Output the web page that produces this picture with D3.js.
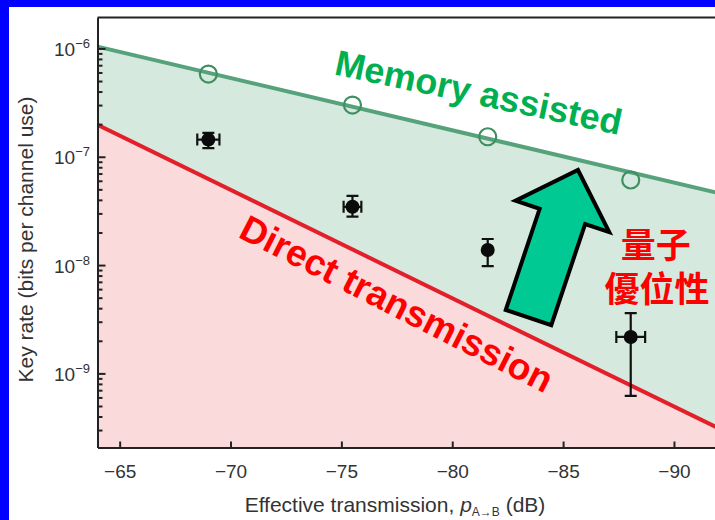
<!DOCTYPE html>
<html><head><meta charset="utf-8">
<script src="https://cdn.jsdelivr.net/npm/d3@7"></script>
<style>
html,body{margin:0;padding:0;background:#fff;}
svg{display:block;}
</style></head>
<body>
<svg id="chart" width="715" height="520"></svg>
<script>
// ---------------- data ----------------
const transmissionDb = [-69.0, -75.5, -81.6, -88.05];
const memoryBoundPoints = [5.8e-7, 3.0e-7, 1.53e-7, 6.1e-8];
const measuredRate = [1.44e-7, 3.45e-8, 1.38e-8, 2.17e-9];
const rateLow = [1.2e-7, 2.8e-8, 9.8e-9, 6.2e-10];
const rateHigh = [1.66e-7, 4.35e-8, 1.74e-8, 3.6e-9];
const dbError = [0.5, 0.4, 0, 0.65];
const memoryBoundDb = [-64, -92];
const memoryBoundRate = [1.04e-6, 4.63e-8];
const directBoundDb = [-64, -92];
const directBoundRate = [1.97e-7, 3.12e-10];
const xTicks = [-65, -70, -75, -80, -85, -90];
const yMajorTicks = [1e-9, 1e-8, 1e-7, 1e-6];
const yTickBase = "10";
const yTickExponents = ["\u22129", "\u22128", "\u22127", "\u22126"];
const xTitle = ["Effective transmission, ", "p", "A\u2192B", " (dB)"];
const yTitle = "Key rate (bits per channel use)";
const labelMemory = "Memory assisted";
const labelDirect = "Direct transmission";
const labelAdvantage = ["量子", "優位性"];
// annotation anchors (data coordinates)
const arrowTail = [-83.44, 3.28e-9];
const arrowTip = [-85.67, 7.55e-8];

// ---------------- layout ----------------
const W = 715, H = 520;
const pLeft = 97.5, pRight = 718.3, pTop = 17.5, pBottom = 447.5;
const svg = d3.select("#chart");
const x = d3.scaleLinear().domain([-64, -92]).range([pLeft, pRight]);
const y = d3.scaleLog().domain([2.07e-10, 1.93e-6]).range([pBottom, pTop]);

svg.append("defs").append("clipPath").attr("id", "plotclip")
  .append("rect").attr("x", pLeft).attr("y", pTop).attr("width", W - pLeft).attr("height", pBottom - pTop);

const plot = svg.append("g").attr("clip-path", "url(#plotclip)");

const memPts = memoryBoundDb.map((d, i) => ({x: d, y: memoryBoundRate[i]}));
const dirPts = directBoundDb.map((d, i) => ({x: d, y: directBoundRate[i]}));

// pink region below direct transmission
plot.append("path")
  .datum(dirPts)
  .attr("d", d3.area().x(d => x(d.x)).y0(pBottom).y1(d => y(d.y)))
  .attr("fill", "#fbdadc");
// green region between bounds
const band = memPts.map((d, i) => ({x: d.x, hi: d.y, lo: dirPts[i].y}));
plot.append("path")
  .datum(band)
  .attr("d", d3.area().x(d => x(d.x)).y0(d => y(d.lo)).y1(d => y(d.hi)))
  .attr("fill", "#d6e9de");

plot.append("path").datum(memPts)
  .attr("d", d3.line().x(d => x(d.x)).y(d => y(d.y)))
  .attr("fill", "none").attr("stroke", "#55a27b").attr("stroke-width", 4);
plot.append("path").datum(dirPts)
  .attr("d", d3.line().x(d => x(d.x)).y(d => y(d.y)))
  .attr("fill", "none").attr("stroke", "#e3202a").attr("stroke-width", 4);

// open circles
plot.selectAll("circle.mem").data(transmissionDb).join("circle")
  .attr("class", "mem")
  .attr("cx", d => x(d)).attr("cy", (d, i) => y(memoryBoundPoints[i]))
  .attr("r", 8.5).attr("fill", "none").attr("stroke", "#3e8f62").attr("stroke-width", 2.2);

// error bars + measured points
const eb = plot.append("g").attr("stroke", "#111").attr("stroke-width", 2.2);
transmissionDb.forEach((d, i) => {
  const cx = x(d), cy = y(measuredRate[i]);
  const y1 = y(rateHigh[i]), y2 = y(rateLow[i]);
  eb.append("line").attr("x1", cx).attr("x2", cx).attr("y1", y1).attr("y2", y2);
  eb.append("line").attr("x1", cx - 6).attr("x2", cx + 6).attr("y1", y1).attr("y2", y1);
  eb.append("line").attr("x1", cx - 6).attr("x2", cx + 6).attr("y1", y2).attr("y2", y2);
  if (dbError[i] > 0) {
    const xa = x(d + dbError[i]), xb = x(d - dbError[i]);
    eb.append("line").attr("x1", xa).attr("x2", xb).attr("y1", cy).attr("y2", cy);
    eb.append("line").attr("x1", xa).attr("x2", xa).attr("y1", cy - 6).attr("y2", cy + 6);
    eb.append("line").attr("x1", xb).attr("x2", xb).attr("y1", cy - 6).attr("y2", cy + 6);
  }
});
plot.selectAll("circle.meas").data(transmissionDb).join("circle")
  .attr("class", "meas")
  .attr("cx", d => x(d)).attr("cy", (d, i) => y(measuredRate[i]))
  .attr("r", 7).attr("fill", "#0a0a0a");

// ---------------- axes ----------------
const axisColor = "#222";
const yAxis = svg.append("g").attr("transform", `translate(${pLeft},0)`)
  .call(d3.axisLeft(y).tickValues(y.ticks()).tickSizeInner(-5).tickSizeOuter(0).tickFormat(() => ""));
yAxis.select(".domain").attr("stroke", axisColor).attr("stroke-width", 2);
yAxis.selectAll(".tick line").attr("stroke", axisColor).attr("stroke-width", 2)
  .attr("x2", d => yMajorTicks.some(t => Math.abs(t - d) / t < 1e-6) ? 8 : 5);

const xAxis = svg.append("g").attr("transform", `translate(0,${pBottom})`)
  .call(d3.axisBottom(x).tickValues(xTicks).tickSizeInner(-6).tickSizeOuter(0)
    .tickFormat(d => "\u2212" + Math.abs(d)));
xAxis.select(".domain").attr("stroke", axisColor).attr("stroke-width", 2);
xAxis.selectAll(".tick line").attr("stroke", axisColor).attr("stroke-width", 2);
xAxis.selectAll(".tick text").attr("y", 30.5).attr("dy", null)
  .attr("font-family", "Liberation Sans, Arial, sans-serif").attr("font-size", 19).attr("fill", "#333");

// top frame line
svg.append("line").attr("x1", pLeft).attr("x2", W).attr("y1", pTop).attr("y2", pTop)
  .attr("stroke", axisColor).attr("stroke-width", 2);

// y tick labels (10^n)
yMajorTicks.forEach((t, i) => {
  const tx = svg.append("text").attr("x", 90).attr("y", y(t) + 7.5)
    .attr("text-anchor", "end").attr("fill", "#333")
    .attr("font-family", "Liberation Sans, Arial, sans-serif").attr("font-size", 19);
  tx.append("tspan").text(yTickBase);
  tx.append("tspan").attr("dy", -8).attr("font-size", 13).text(yTickExponents[i]);
});

// axis titles
svg.append("text").attr("transform", `translate(33,${(pTop + pBottom) / 2 + 7}) rotate(-90)`)
  .attr("text-anchor", "middle").attr("fill", "#333")
  .attr("font-family", "Liberation Sans, Arial, sans-serif").attr("font-size", 21)
  .text(yTitle);
const xt = svg.append("text").attr("x", 395).attr("y", 512)
  .attr("text-anchor", "middle").attr("fill", "#333")
  .attr("font-family", "Liberation Sans, Arial, sans-serif").attr("font-size", 21);
xt.append("tspan").text(xTitle[0]);
xt.append("tspan").attr("font-style", "italic").text(xTitle[1]);
xt.append("tspan").attr("font-size", 12).attr("dy", 4).text(xTitle[2]);
xt.append("tspan").attr("dy", -4).text(xTitle[3]);

// ---------------- annotations ----------------
const bold = "Liberation Sans, Arial, sans-serif";
svg.append("text")
  .attr("transform", `translate(${x(-81.19)},${y(3.93e-7)}) rotate(12)`)
  .attr("text-anchor", "middle").attr("dominant-baseline", "central")
  .attr("font-family", bold).attr("font-weight", "bold").attr("font-size", 36)
  .attr("fill", "#00b050").text(labelMemory);
svg.append("text")
  .attr("transform", `translate(${x(-77.49)},${y(4.38e-9)}) rotate(27)`)
  .attr("text-anchor", "middle").attr("dominant-baseline", "central")
  .attr("font-family", bold).attr("font-weight", "bold").attr("font-size", 37)
  .attr("fill", "#ff0000").text(labelDirect);

const cjk = "'Noto Sans CJK TC', 'Noto Sans CJK JP', sans-serif";
svg.append("text").attr("x", x(-89.18)).attr("y", y(1.62e-8))
  .attr("text-anchor", "middle").attr("dominant-baseline", "central")
  .attr("font-family", cjk).attr("font-weight", "bold").attr("font-size", 35)
  .attr("fill", "#ff0000").text(labelAdvantage[0]);
svg.append("text").attr("x", x(-89.24)).attr("y", y(6.41e-9))
  .attr("text-anchor", "middle").attr("dominant-baseline", "central")
  .attr("font-family", cjk).attr("font-weight", "bold").attr("font-size", 35)
  .attr("fill", "#ff0000").text(labelAdvantage[1]);

// block arrow
const ax0 = x(arrowTail[0]), ay0 = y(arrowTail[1]);
const ax1 = x(arrowTip[0]), ay1 = y(arrowTip[1]);
const len = Math.hypot(ax1 - ax0, ay1 - ay0);
const ang = Math.atan2(ax1 - ax0, -(ay1 - ay0)) * 180 / Math.PI;
const sw = 24, hw = 49.4, hl = 49;
const arrowPts = [[-sw, 0], [-sw, -(len - hl)], [-hw, -(len - hl)], [0, -len], [hw, -(len - hl)], [sw, -(len - hl)], [sw, 0]];
svg.append("polygon")
  .attr("transform", `translate(${ax0},${ay0}) rotate(${ang})`)
  .attr("points", arrowPts.map(p => p.join(",")).join(" "))
  .attr("fill", "#00c994").attr("stroke", "#000").attr("stroke-width", 4)
  .attr("stroke-linejoin", "miter");

// blue frame
svg.append("rect").attr("x", 0).attr("y", 0).attr("width", 9).attr("height", H).attr("fill", "#0000ff");
svg.append("rect").attr("x", 0).attr("y", 0).attr("width", W).attr("height", 7).attr("fill", "#0000ff");
</script>
</body></html>
